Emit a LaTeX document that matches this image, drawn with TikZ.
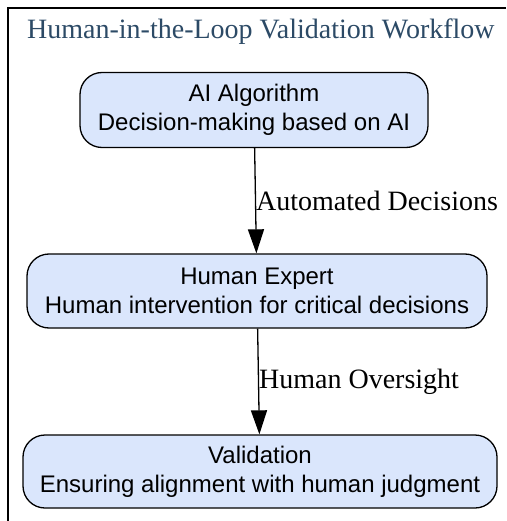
\documentclass[tikz,border=0pt]{standalone}
\usepackage{fontspec}
\setmainfont{Liberation Serif}
\setsansfont{Liberation Sans}
\usetikzlibrary{arrows.meta}
\definecolor{titleblue}{RGB}{44, 74, 102}
\definecolor{boxblue}{RGB}{218, 230, 252}
\tikzset{
  stepbox/.style={
    draw=black,
    line width=1.3pt,
    fill=boxblue,
    rounded corners=22pt,
    align=center,
    font=\sffamily\fontsize{24}{29}\selectfont,
  },
  flow/.style={
    line width=1.3pt,
    -{Triangle[length=24pt,width=16pt]},
  },
  flowlabel/.style={
    right,
    inner sep=0pt,
    font=\fontsize{28}{32}\selectfont,
  },
}

\begin{document}
\begin{tikzpicture}[x=1pt, y=-1pt]
  \useasboundingbox (0,0) rectangle (506,521);

  % Frame
  \draw[line width=2pt] (8,521) -- (8,8) -- (506,8);

  % Title
  \node[anchor=west, inner sep=0pt, text=titleblue,
    font=\fontsize{28}{32}\selectfont] (title) at (27,32)
    {Human-in-the-Loop Validation Workflow};

  % Steps
  \node[stepbox, minimum width=348pt, minimum height=75pt] (ai) at (254,110)
    {AI Algorithm\\Decision-making based on AI};
  \node[stepbox, minimum width=460pt, minimum height=74pt] (expert) at (257,291)
    {Human Expert\\Human intervention for critical decisions};
  \node[stepbox, minimum width=474pt, minimum height=73pt] (validation) at (260,471.5)
    {Validation\\Ensuring alignment with human judgment};

  % Edges
  \draw[flow] (ai) -- node[flowlabel] {Automated Decisions} (expert);
  \draw[flow] (expert) -- node[flowlabel] {Human Oversight} (validation);
\end{tikzpicture}
\end{document}
